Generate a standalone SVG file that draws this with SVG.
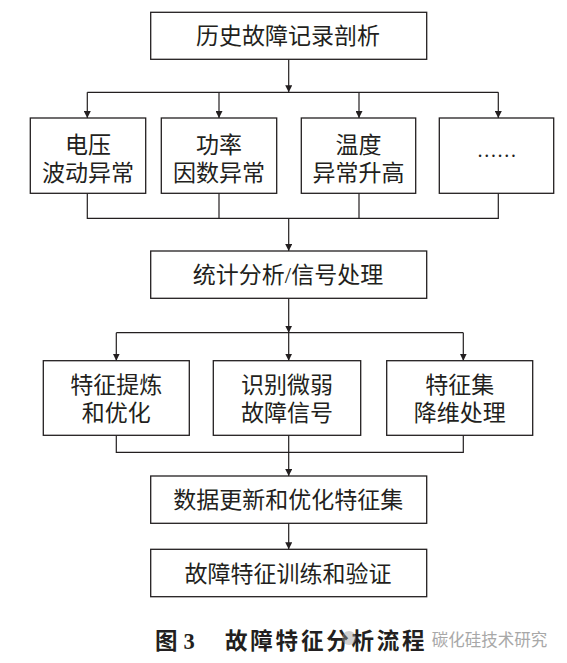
<svg xmlns="http://www.w3.org/2000/svg" width="567" height="663" viewBox="0 0 567 663">
<style>
  .box { fill: #ffffff; stroke: #231f20; stroke-width: 1.3; }
  .t { font-family: "Noto Sans CJK SC", sans-serif; font-size: 23px; fill: #231f20; text-anchor: middle; }
  .ln { fill: none; stroke: #231f20; stroke-width: 1.2; }
  .cap { font-family: "Noto Sans CJK SC", sans-serif; font-size: 22.5px; font-weight: bold; fill: #231f20; }
  .wm { font-family: "Noto Sans CJK SC", sans-serif; font-size: 16.5px; fill: #a8a8a8; }
</style>
<defs>
  <marker id="ah" markerUnits="userSpaceOnUse" markerWidth="8" markerHeight="7" refX="7" refY="3.5" orient="auto">
    <path d="M0,0 L7,3.5 L0,7 Z" fill="#231f20"/>
  </marker>
</defs>
<rect width="567" height="663" fill="#ffffff"/>

<g id="connectors">
  <line class="ln" x1="288.7" y1="59.3" x2="288.7" y2="92.3" marker-end="url(#ah)"/>
  <line class="ln" x1="87.3" y1="92.3" x2="498.3" y2="92.3"/>
  <line class="ln" x1="87.3" y1="92.3" x2="87.3" y2="118" marker-end="url(#ah)"/>
  <line class="ln" x1="219" y1="92.3" x2="219" y2="118" marker-end="url(#ah)"/>
  <line class="ln" x1="359" y1="92.3" x2="359" y2="118" marker-end="url(#ah)"/>
  <line class="ln" x1="498.3" y1="92.3" x2="498.3" y2="118" marker-end="url(#ah)"/>
  <path class="ln" d="M87.3,193.3 V218.3 H498.3 V193.3 M219,193.3 V218.3 M359,193.3 V218.3"/>
  <line class="ln" x1="288.7" y1="218.3" x2="288.7" y2="251" marker-end="url(#ah)"/>
  <line class="ln" x1="288.7" y1="298.3" x2="288.7" y2="332.7" marker-end="url(#ah)"/>
  <line class="ln" x1="116.3" y1="332.7" x2="463.3" y2="332.7"/>
  <line class="ln" x1="116.3" y1="332.7" x2="116.3" y2="360.7" marker-end="url(#ah)"/>
  <line class="ln" x1="288.7" y1="332.7" x2="288.7" y2="360.7" marker-end="url(#ah)"/>
  <line class="ln" x1="463.3" y1="332.7" x2="463.3" y2="360.7" marker-end="url(#ah)"/>
  <path class="ln" d="M116.3,435.3 V452.3 H463.3 V435.3 M288.7,435.3 V452.3"/>
  <line class="ln" x1="288.7" y1="452.3" x2="288.7" y2="476" marker-end="url(#ah)"/>
  <line class="ln" x1="288.7" y1="523.3" x2="288.7" y2="549.3" marker-end="url(#ah)"/>
</g>

<g id="n-history">
  <rect class="box" x="150.7" y="12.3" width="276" height="47"/>
  <text class="t" x="288" y="43.7">历史故障记录剖析</text>
</g>
<g id="n-voltage">
  <rect class="box" x="30.3" y="118" width="115.4" height="75.3"/>
  <text class="t"><tspan x="88" y="152.8">电压</tspan><tspan x="88" y="180.8">波动异常</tspan></text>
</g>
<g id="n-power">
  <rect class="box" x="161.3" y="118" width="115.4" height="75.3"/>
  <text class="t"><tspan x="219" y="152.8">功率</tspan><tspan x="219" y="180.8">因数异常</tspan></text>
</g>
<g id="n-temp">
  <rect class="box" x="301.3" y="118" width="114.4" height="75.3"/>
  <text class="t"><tspan x="358.5" y="152.8">温度</tspan><tspan x="358.5" y="180.8">异常升高</tspan></text>
</g>
<g id="n-more">
  <rect class="box" x="439.3" y="118" width="114.4" height="75.3"/>
  <text x="496.7" y="157" font-family="Liberation Serif, serif" font-size="20" fill="#231f20" text-anchor="middle">……</text>
</g>
<g id="n-stats">
  <rect class="box" x="150.7" y="251" width="276" height="47.3"/>
  <text class="t" x="288" y="283.4">统计分析<tspan font-family="Liberation Serif, serif">/</tspan>信号处理</text>
</g>
<g id="n-extract">
  <rect class="box" x="43.3" y="360.7" width="146" height="74.6"/>
  <text class="t"><tspan x="116.3" y="392.8">特征提炼</tspan><tspan x="116.3" y="420.8">和优化</tspan></text>
</g>
<g id="n-weak">
  <rect class="box" x="213.3" y="360.7" width="147.4" height="74.6"/>
  <text class="t"><tspan x="287" y="392.8">识别微弱</tspan><tspan x="287" y="420.8">故障信号</tspan></text>
</g>
<g id="n-reduce">
  <rect class="box" x="386.7" y="360.7" width="146" height="74.6"/>
  <text class="t"><tspan x="459.7" y="392.8">特征集</tspan><tspan x="459.7" y="420.8">降维处理</tspan></text>
</g>
<g id="n-update">
  <rect class="box" x="150.7" y="476" width="276" height="47.3"/>
  <text class="t" x="288.3" y="508.4">数据更新和优化特征集</text>
</g>
<g id="n-train">
  <rect class="box" x="150.7" y="549.3" width="276" height="47.4"/>
  <text class="t" x="288" y="581.7">故障特征训练和验证</text>
</g>

<g id="caption">
  <text class="cap" x="155" y="649">图<tspan font-family="Liberation Serif, serif" x="183.5">3</tspan><tspan x="225" letter-spacing="2.8">故障特征分析流程</tspan></text>
  <circle cx="349" cy="638" r="7" fill="#9a9a9a" opacity="0.45"/>
  <text class="wm" x="431.7" y="646">碳化硅技术研究</text>
</g>
</svg>
